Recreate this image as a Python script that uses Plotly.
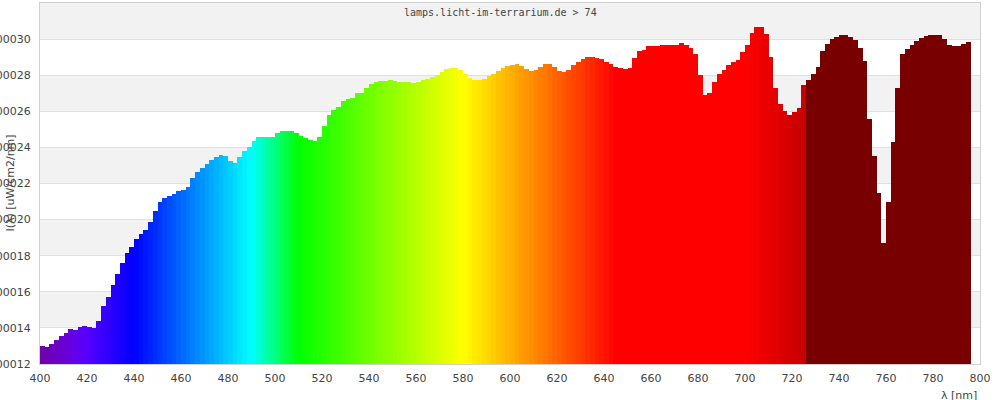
import plotly.graph_objects as go

# Wavelength bins (nm), start of each 2 nm bin
wavelengths = list(range(400, 796, 2))

# Spectral irradiance I(lambda) [uW/cm2/nm] (x 1e-5)
intensity_e5 = [
    13.0, 12.95, 13.1, 13.35, 13.55, 13.7, 13.95, 13.88, 14.05, 14.1,   # 400-418
    14.05, 14.0, 14.4, 15.2, 15.7, 16.4, 17.0, 17.6, 18.15, 18.5,        # 420-438
    18.95, 19.2, 19.45, 19.85, 20.5, 20.95, 21.2, 21.32, 21.42, 21.58,   # 440-458
    21.65, 21.8, 22.3, 22.65, 22.88, 23.1, 23.3, 23.48, 23.56, 23.5,     # 460-478
    23.25, 23.12, 23.45, 23.8, 24.05, 24.35, 24.6, 24.55, 24.55, 24.58,  # 480-498
    24.8, 24.9, 24.92, 24.9, 24.8, 24.62, 24.5, 24.42, 24.35, 24.55,     # 500-518
    25.2, 25.8, 26.1, 26.22, 26.55, 26.7, 26.75, 27.0, 27.03, 27.3,      # 520-538
    27.5, 27.65, 27.7, 27.7, 27.75, 27.68, 27.6, 27.64, 27.62, 27.58,    # 540-558
    27.6, 27.73, 27.78, 27.88, 28.0, 28.18, 28.35, 28.4, 28.38, 28.3,    # 560-578
    28.05, 27.85, 27.72, 27.72, 27.8, 27.95, 28.05, 28.25, 28.4, 28.5,   # 580-598
    28.57, 28.6, 28.5, 28.37, 28.25, 28.28, 28.45, 28.6, 28.62, 28.48,   # 600-618
    28.25, 28.2, 28.28, 28.55, 28.75, 28.88, 29.0, 29.02, 28.97, 28.88,  # 620-638
    28.75, 28.6, 28.48, 28.4, 28.32, 28.4, 28.95, 29.35, 29.42, 29.62,   # 640-658
    29.63, 29.64, 29.65, 29.66, 29.67, 29.7, 29.77, 29.7, 29.5, 29.15,   # 660-678
    28.0, 26.9, 27.0, 27.6, 28.05, 28.3, 28.55, 28.75, 28.85, 29.3,      # 680-698
    29.7, 30.35, 30.65, 30.68, 30.3, 29.0, 27.3, 26.4, 26.0, 25.82,      # 700-718
    25.98, 26.17, 27.45, 27.75, 28.05, 28.45, 29.35, 29.75, 30.0, 30.12, # 720-738
    30.2, 30.23, 30.12, 29.95, 29.5, 28.8, 25.6, 23.5, 21.5, 18.7,       # 740-758
    21.0, 24.3, 27.3, 29.2, 29.45, 29.7, 29.9, 30.08, 30.18, 30.22,      # 760-778
    30.23, 30.2, 30.0, 29.7, 29.62, 29.62, 29.75, 29.85,                 # 780-794
]
intensity = [v * 1e-5 for v in intensity_e5]

x_ticks = list(range(400, 801, 20))
y_ticks = [0.00012 + i * 0.00002 for i in range(11)]
title_text = "lamps.licht-im-terrarium.de > 74"
x_title = "λ [nm]"
y_title = "I(λ) [uW/cm2/nm]"


def spectrum_color(w):
    if w >= 726:
        return "rgb(120,0,0)"
    if w < 440:
        r, g, b = (440 - w) / 60.0, 0.0, 1.0
    elif w < 490:
        r, g, b = 0.0, (w - 440) / 50.0, 1.0
    elif w < 510:
        r, g, b = 0.0, 1.0, (510 - w) / 20.0
    elif w < 580:
        r, g, b = (w - 510) / 70.0, 1.0, 0.0
    elif w < 645:
        r, g, b = 1.0, (645 - w) / 65.0, 0.0
    else:
        r, g, b = 1.0, 0.0, 0.0
    if w < 420:
        f = 0.3 + 0.7 * (w - 380) / 40.0
    elif w <= 700:
        f = 1.0
    else:
        f = 0.3 + 0.7 * (780 - w) / 80.0
    return "rgb(%d,%d,%d)" % (round(255 * r * f), round(255 * g * f), round(255 * b * f))


colors = [spectrum_color(w + 1) for w in wavelengths]

fig = go.Figure()
fig.add_trace(go.Bar(
    x=wavelengths, y=intensity, width=2, offset=0,
    marker=dict(color=colors, line=dict(width=0)),
    hoverinfo="x+y", showlegend=False,
))

# alternating grey bands
for lo in [0.00014, 0.00018, 0.00022, 0.00026, 0.00030]:
    fig.add_shape(type="rect", xref="paper", yref="y", x0=0, x1=1,
                  y0=lo, y1=lo + 0.00002, fillcolor="#f2f2f2",
                  line=dict(width=0), layer="below")

tickfont = dict(family="DejaVu Sans", size=11, color="#444444")
fig.update_layout(
    width=1000, height=400,
    margin=dict(l=40, r=20, t=3, b=36, autoexpand=False),
    paper_bgcolor="white", plot_bgcolor="white",
    bargap=0,
    xaxis=dict(range=[400, 800], tickvals=x_ticks, ticktext=[str(t) for t in x_ticks],
               showgrid=False, zeroline=False, showline=True, linecolor="#d0d0d0",
               mirror=True, tickfont=tickfont, ticks="", ticklabelstandoff=4,
               automargin=False),
    yaxis=dict(range=[0.00012, 0.00032], tickvals=y_ticks,
               ticktext=["%.5f" % t for t in y_ticks],
               showgrid=True, gridcolor="#e0e0e0", gridwidth=1, zeroline=False,
               showline=True, linecolor="#d0d0d0", mirror=True,
               tickfont=tickfont, ticks="", ticklabelstandoff=6, automargin=False),
    annotations=[
        dict(text=title_text, xref="paper", yref="paper", x=(500 - 40) / 940,
             y=(364 - 13) / 361, xanchor="center", yanchor="middle", showarrow=False,
             font=dict(family="DejaVu Sans Mono", size=10, color="#444444")),
        dict(text=x_title, xref="paper", yref="paper", x=(979 - 40) / 940,
             y=(364 - 395) / 361, xanchor="right", yanchor="middle", showarrow=False,
             font=dict(family="DejaVu Sans", size=11, color="#444444")),
        dict(text=y_title, xref="paper", yref="paper", x=(10 - 40) / 940,
             y=0.5, xanchor="center", yanchor="middle", textangle=-90, showarrow=False,
             font=dict(family="DejaVu Sans", size=11, color="#444444")),
    ],
)

fig.write_html("out.html", config={"displayModeBar": False},
               post_script="document.body.style.margin='0px';")
